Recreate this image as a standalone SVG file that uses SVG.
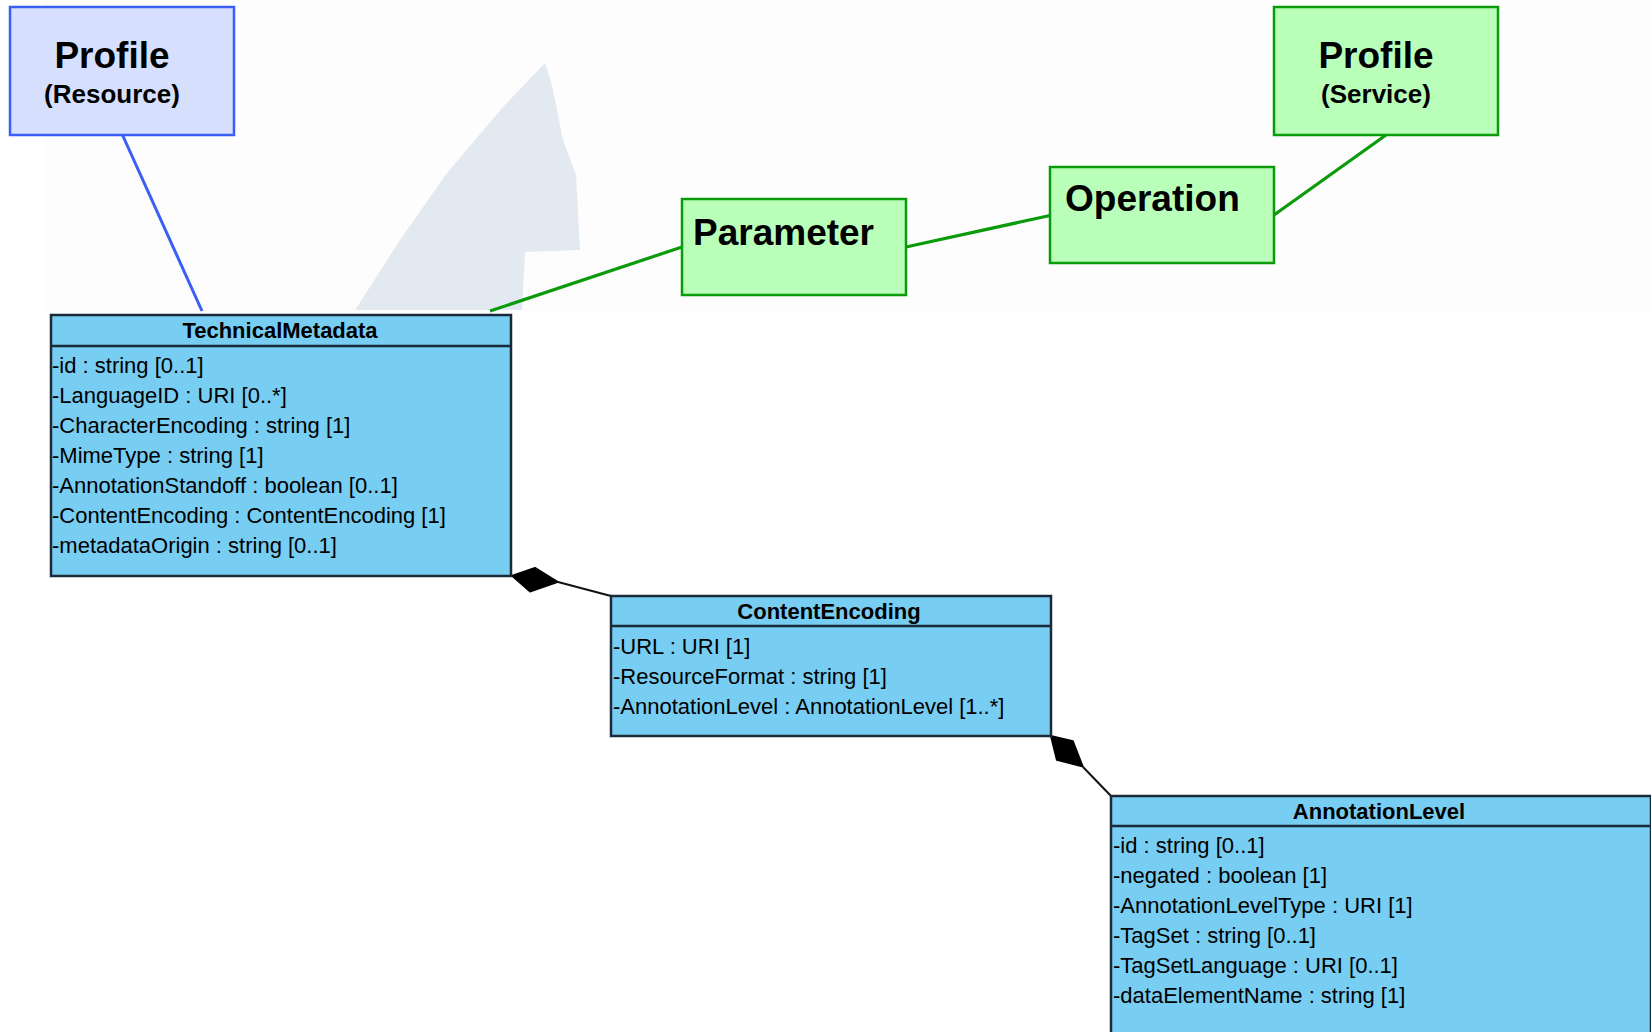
<svg xmlns="http://www.w3.org/2000/svg" width="1651" height="1032" viewBox="0 0 1651 1032">
<style>
.t{font-family:"Liberation Sans",Arial,sans-serif;fill:#000}
.big{font-size:37px;font-weight:bold}
.sub{font-size:26px;font-weight:bold}
.hd{font-size:22px;font-weight:bold;text-anchor:middle}
.at{font-size:22px}
.uml{fill:#78cdf2;stroke:#1b2a38;stroke-width:2.5}
.sep{stroke:#1b2a38;stroke-width:2.5}
.green{fill:#b9ffb9;stroke:#0a9a0a;stroke-width:2.5}
.blue{fill:#d6e0fe;stroke:#3a5ef7;stroke-width:2.5}
.gl{stroke:#0a9a0a;stroke-width:3.2;fill:none}
.bl{stroke:#3a5ef7;stroke-width:3;fill:none}
.cl{stroke:#111;stroke-width:2;fill:none}
.dia{fill:#000;stroke:#000;stroke-width:1.5;stroke-linejoin:round}
</style>
<rect width="1651" height="1032" fill="#ffffff"/>
<rect x="45" y="0" width="1606" height="311" fill="#fdfdfe"/>
<polygon points="355,310 400,240 447,173 503,107 545,63 552,85 563,140 576,175 580,250 525,252 522,310" fill="#e3e9f0"/>

<g id="connectors">
  <line class="bl" x1="122.5" y1="135" x2="202" y2="311"/>
  <line class="gl" x1="490" y1="311" x2="682" y2="247"/>
  <line class="gl" x1="906" y1="247" x2="1050" y2="215.5"/>
  <line class="gl" x1="1274" y1="215" x2="1386" y2="135"/>
  <line class="cl" x1="558" y1="582" x2="611" y2="596"/>
  <polygon class="dia" points="511.7,575.7 535,567.7 558,582 530,591.7"/>
  <line class="cl" x1="1083" y1="767" x2="1111" y2="796"/>
  <polygon class="dia" points="1050.7,735.7 1073,741 1083,766.7 1056.7,760"/>
</g>

<g id="profile-resource">
  <rect class="blue" x="10" y="7" width="224" height="128"/>
  <text class="t big" x="112" y="68" text-anchor="middle">Profile</text>
  <text class="t sub" x="112" y="103" text-anchor="middle">(Resource)</text>
</g>

<g id="profile-service">
  <rect class="green" x="1274" y="7" width="224" height="128"/>
  <text class="t big" x="1376" y="68" text-anchor="middle">Profile</text>
  <text class="t sub" x="1376" y="103" text-anchor="middle">(Service)</text>
</g>

<g id="parameter">
  <rect class="green" x="682" y="199" width="224" height="96"/>
  <text class="t big" x="693" y="245">Parameter</text>
</g>

<g id="operation">
  <rect class="green" x="1050" y="167" width="224" height="96"/>
  <text class="t big" x="1065" y="211">Operation</text>
</g>

<g id="technical-metadata">
  <rect class="uml" x="51" y="315" width="460" height="261"/>
  <line class="sep" x1="51" y1="346" x2="511" y2="346"/>
  <text class="t hd" x="280" y="338">TechnicalMetadata</text>
  <text class="t at" x="52" y="373">-id : string [0..1]</text>
  <text class="t at" x="52" y="403">-LanguageID : URI [0..*]</text>
  <text class="t at" x="52" y="433">-CharacterEncoding : string [1]</text>
  <text class="t at" x="52" y="463">-MimeType : string [1]</text>
  <text class="t at" x="52" y="493">-AnnotationStandoff : boolean [0..1]</text>
  <text class="t at" x="52" y="523">-ContentEncoding : ContentEncoding [1]</text>
  <text class="t at" x="52" y="553">-metadataOrigin : string [0..1]</text>
</g>

<g id="content-encoding">
  <rect class="uml" x="611" y="596" width="440" height="140"/>
  <line class="sep" x1="611" y1="626" x2="1051" y2="626"/>
  <text class="t hd" x="829" y="619">ContentEncoding</text>
  <text class="t at" x="613" y="654">-URL : URI [1]</text>
  <text class="t at" x="613" y="684">-ResourceFormat : string [1]</text>
  <text class="t at" x="613" y="714">-AnnotationLevel : AnnotationLevel [1..*]</text>
</g>

<g id="annotation-level">
  <rect class="uml" x="1111" y="796" width="540" height="250"/>
  <line class="sep" x1="1111" y1="826" x2="1651" y2="826"/>
  <text class="t hd" x="1379" y="819">AnnotationLevel</text>
  <text class="t at" x="1113" y="853">-id : string [0..1]</text>
  <text class="t at" x="1113" y="883">-negated : boolean [1]</text>
  <text class="t at" x="1113" y="913">-AnnotationLevelType : URI [1]</text>
  <text class="t at" x="1113" y="943">-TagSet : string [0..1]</text>
  <text class="t at" x="1113" y="973">-TagSetLanguage : URI [0..1]</text>
  <text class="t at" x="1113" y="1003">-dataElementName : string [1]</text>
</g>
</svg>
